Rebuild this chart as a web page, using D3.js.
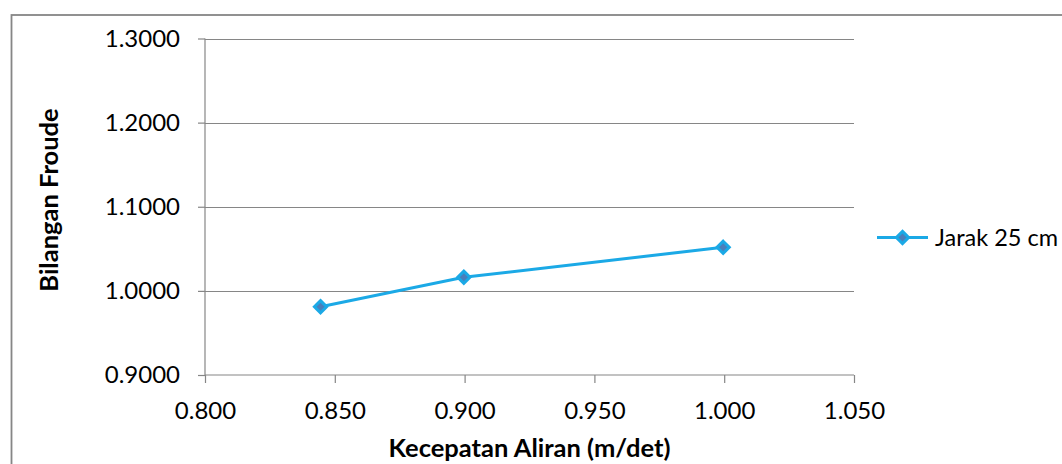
<!DOCTYPE html>
<html>
<head>
<meta charset="utf-8">
<script src="https://cdn.jsdelivr.net/npm/d3@7"></script>
<style>
  html, body { margin: 0; padding: 0; background: #fff; }
  svg { display: block; }
  text { font-family: Lato, "Open Sans", sans-serif; fill: #000; }
</style>
</head>
<body>
<svg id="chart" width="1062" height="464"></svg>
<script>
// Froude number vs. flow velocity, measurement at 25 cm
const seriesName = "Jarak 25 cm";
const velocity = [0.8445, 0.8997, 0.9996];
const froude = [0.9812, 1.0162, 1.0518];
const xTicks = [0.800, 0.850, 0.900, 0.950, 1.000, 1.050];
const yTicks = [0.9, 1.0, 1.1, 1.2, 1.3];
const xTitle = "Kecepatan Aliran (m/det)";
const yTitle = "Bilangan Froude";

const svg = d3.select("#chart");
const gray = "#868686";
const lineBlue = "#1BA9E6";
const markerFill = "#4A7EBB";

// chart frame (runs past the right and bottom edges)
svg.append("rect")
  .attr("x", 11.5).attr("y", 15)
  .attr("width", 1100).attr("height", 500)
  .attr("fill", "none").attr("stroke", gray).attr("stroke-width", 1.8);

const x = d3.scaleLinear().domain([0.8, 1.05]).range([205, 854]);
const y = d3.scaleLinear().domain([0.9, 1.3]).range([375, 38.5]);

// horizontal gridlines
svg.append("g").selectAll("line").data(yTicks.slice(1)).join("line")
  .attr("x1", x(0.8)).attr("x2", x(1.05))
  .attr("y1", d => Math.round(y(d)) + 0.5).attr("y2", d => Math.round(y(d)) + 0.5)
  .attr("stroke", gray).attr("stroke-width", 1.2);

// y axis
const yAxis = svg.append("g")
  .attr("transform", `translate(${x(0.8)},0)`)
  .call(d3.axisLeft(y).tickValues(yTicks).tickFormat(d3.format(".4f")).tickSize(7).tickPadding(18));
yAxis.select(".domain").attr("stroke", gray).attr("stroke-width", 1.2).attr("d", `M0,${y(1.3)}V${y(0.9)}`);
yAxis.selectAll(".tick line").attr("stroke", gray).attr("stroke-width", 1.2);
yAxis.selectAll(".tick text").style("font-size", "24px").style("font-family", "Lato, sans-serif").attr("fill", "#000");

// x axis
const xAxis = svg.append("g")
  .attr("transform", `translate(0,${y(0.9)})`)
  .call(d3.axisBottom(x).tickValues(xTicks).tickFormat(d3.format(".3f")).tickSize(8).tickPadding(19));
xAxis.select(".domain").attr("stroke", gray).attr("stroke-width", 1.2).attr("d", `M${x(0.8)},0H${x(1.05)}`);
xAxis.selectAll(".tick line").attr("stroke", gray).attr("stroke-width", 1.2);
xAxis.selectAll(".tick text").style("font-size", "24px").style("font-family", "Lato, sans-serif").attr("fill", "#000");

// axis titles
svg.append("text")
  .attr("x", (x(0.8) + x(1.05)) / 2).attr("y", 457)
  .attr("text-anchor", "middle")
  .style("font-size", "25.5px").style("font-weight", "bold")
  .text(xTitle);

svg.append("text")
  .attr("transform", "translate(58,200) rotate(-90)")
  .attr("text-anchor", "middle")
  .style("font-size", "25.5px").style("font-weight", "bold")
  .text(yTitle);

// series line and markers
const pts = velocity.map((v, i) => [v, froude[i]]);
svg.append("path")
  .datum(pts)
  .attr("fill", "none").attr("stroke", lineBlue).attr("stroke-width", 3)
  .attr("d", d3.line().x(d => x(d[0])).y(d => y(d[1])));

const diamond = d3.symbol().type(d3.symbolDiamond2).size(95);
svg.append("g").selectAll("path").data(pts).join("path")
  .attr("transform", d => `translate(${x(d[0])},${y(d[1])})`)
  .attr("d", diamond)
  .attr("fill", markerFill).attr("stroke", lineBlue).attr("stroke-width", 3);

// legend
const lg = svg.append("g").attr("transform", "translate(877,237.5)");
lg.append("line").attr("x1", 0).attr("x2", 51).attr("stroke", lineBlue).attr("stroke-width", 3);
lg.append("path").attr("transform", "translate(25.5,0)").attr("d", diamond)
  .attr("fill", markerFill).attr("stroke", lineBlue).attr("stroke-width", 3);
lg.append("text").attr("x", 58).attr("y", 0).attr("dy", "0.36em")
  .style("font-size", "23.5px").text(seriesName);
</script>
</body>
</html>
